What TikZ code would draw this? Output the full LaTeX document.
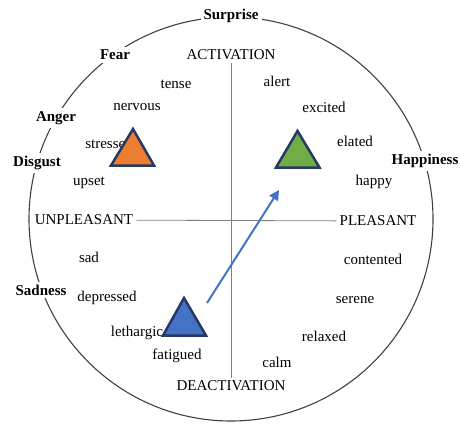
\documentclass[tikz,border=0pt]{standalone}
\usepackage{fontspec}
\setmainfont{Liberation Serif}
\usepackage{tikz}
\usetikzlibrary{arrows.meta}
\usepackage{xcolor}
\definecolor{navy}{RGB}{38,56,100}
\definecolor{moodorange}{RGB}{237,125,49}
\definecolor{moodgreen}{RGB}{112,173,71}
\definecolor{moodblue}{RGB}{68,114,196}

\begin{document}
\begin{tikzpicture} [x=1pt, y=-1pt,
  font=\fontsize{15}{18}\selectfont,
  emo/.style={fill=white,inner sep=3pt,font=\fontsize{15}{18}\selectfont\bfseries},
  word/.style={inner sep=1pt},
  pole/.style={inner sep=3pt},
  mood/.style={draw=navy,line width=2.5pt,line join=miter}
]
\useasboundingbox (0,0) rectangle (460,423);
\draw[line width=1.1pt,black!75] (231,219) circle [radius=202];

% basic emotions on the ring
\node[emo] (surprise) at (231,16) {Surprise};
\node[emo] (fear) at (115,55) {Fear};
\node[emo] (anger) at (56,118) {Anger};
\node[emo] (disgust) at (37,163) {Disgust};
\node[emo] (sadness) at (41,290) {Sadness};
\node[emo] (happiness) at (425,161) {Happiness};

% axes
\node[pole] (act) at (231,55) {ACTIVATION};
\node[pole] (deact) at (231,386) {DEACTIVATION};
\node[pole] (unpl) at (84,220) {UNPLEASANT};
\node[pole] (pl) at (378,221) {PLEASANT};
\path[draw=gray,line width=0.8pt]
(act) edge (deact)
(unpl) edge (pl)
;

% affect words
\node[word] (tense) at (176,84) {tense};
\node[word] (nervous) at (137,107) {nervous};
\node[word] (stressed) at (109,143) {stressed};
\node[word] (upset) at (89,183) {upset};
\node[word] (alert) at (277,81) {alert};
\node[word] (excited) at (324,107) {excited};
\node[word] (elated) at (355,141) {elated};
\node[word] (happy) at (374,182) {happy};
\node[word] (sad) at (89,257) {sad};
\node[word] (depressed) at (107,298) {depressed};
\node[word] (lethargic) at (137,333) {lethargic};
\node[word] (fatigued) at (177,356) {fatigued};
\node[word] (contented) at (373,259) {contented};
\node[word] (serene) at (355,300) {serene};
\node[word] (relaxed) at (324,336) {relaxed};
\node[word] (calm) at (277,362) {calm};

% moods
\draw[mood,fill=moodorange] (133,129) -- (111,165.5) -- (154,165.5) -- cycle;
\draw[mood,fill=moodgreen] (297.5,131) -- (276,167.5) -- (319.5,167.5) -- cycle;
\draw[mood,fill=moodblue] (184,298) -- (163,335.5) -- (206,335.5) -- cycle;

\coordinate (from) at (207,303);
\coordinate (to) at (279,190);
\draw[moodblue,line width=2pt,-{Triangle[length=10pt,width=10pt]}] (from) -- (to);
\end{tikzpicture}
\end{document}
